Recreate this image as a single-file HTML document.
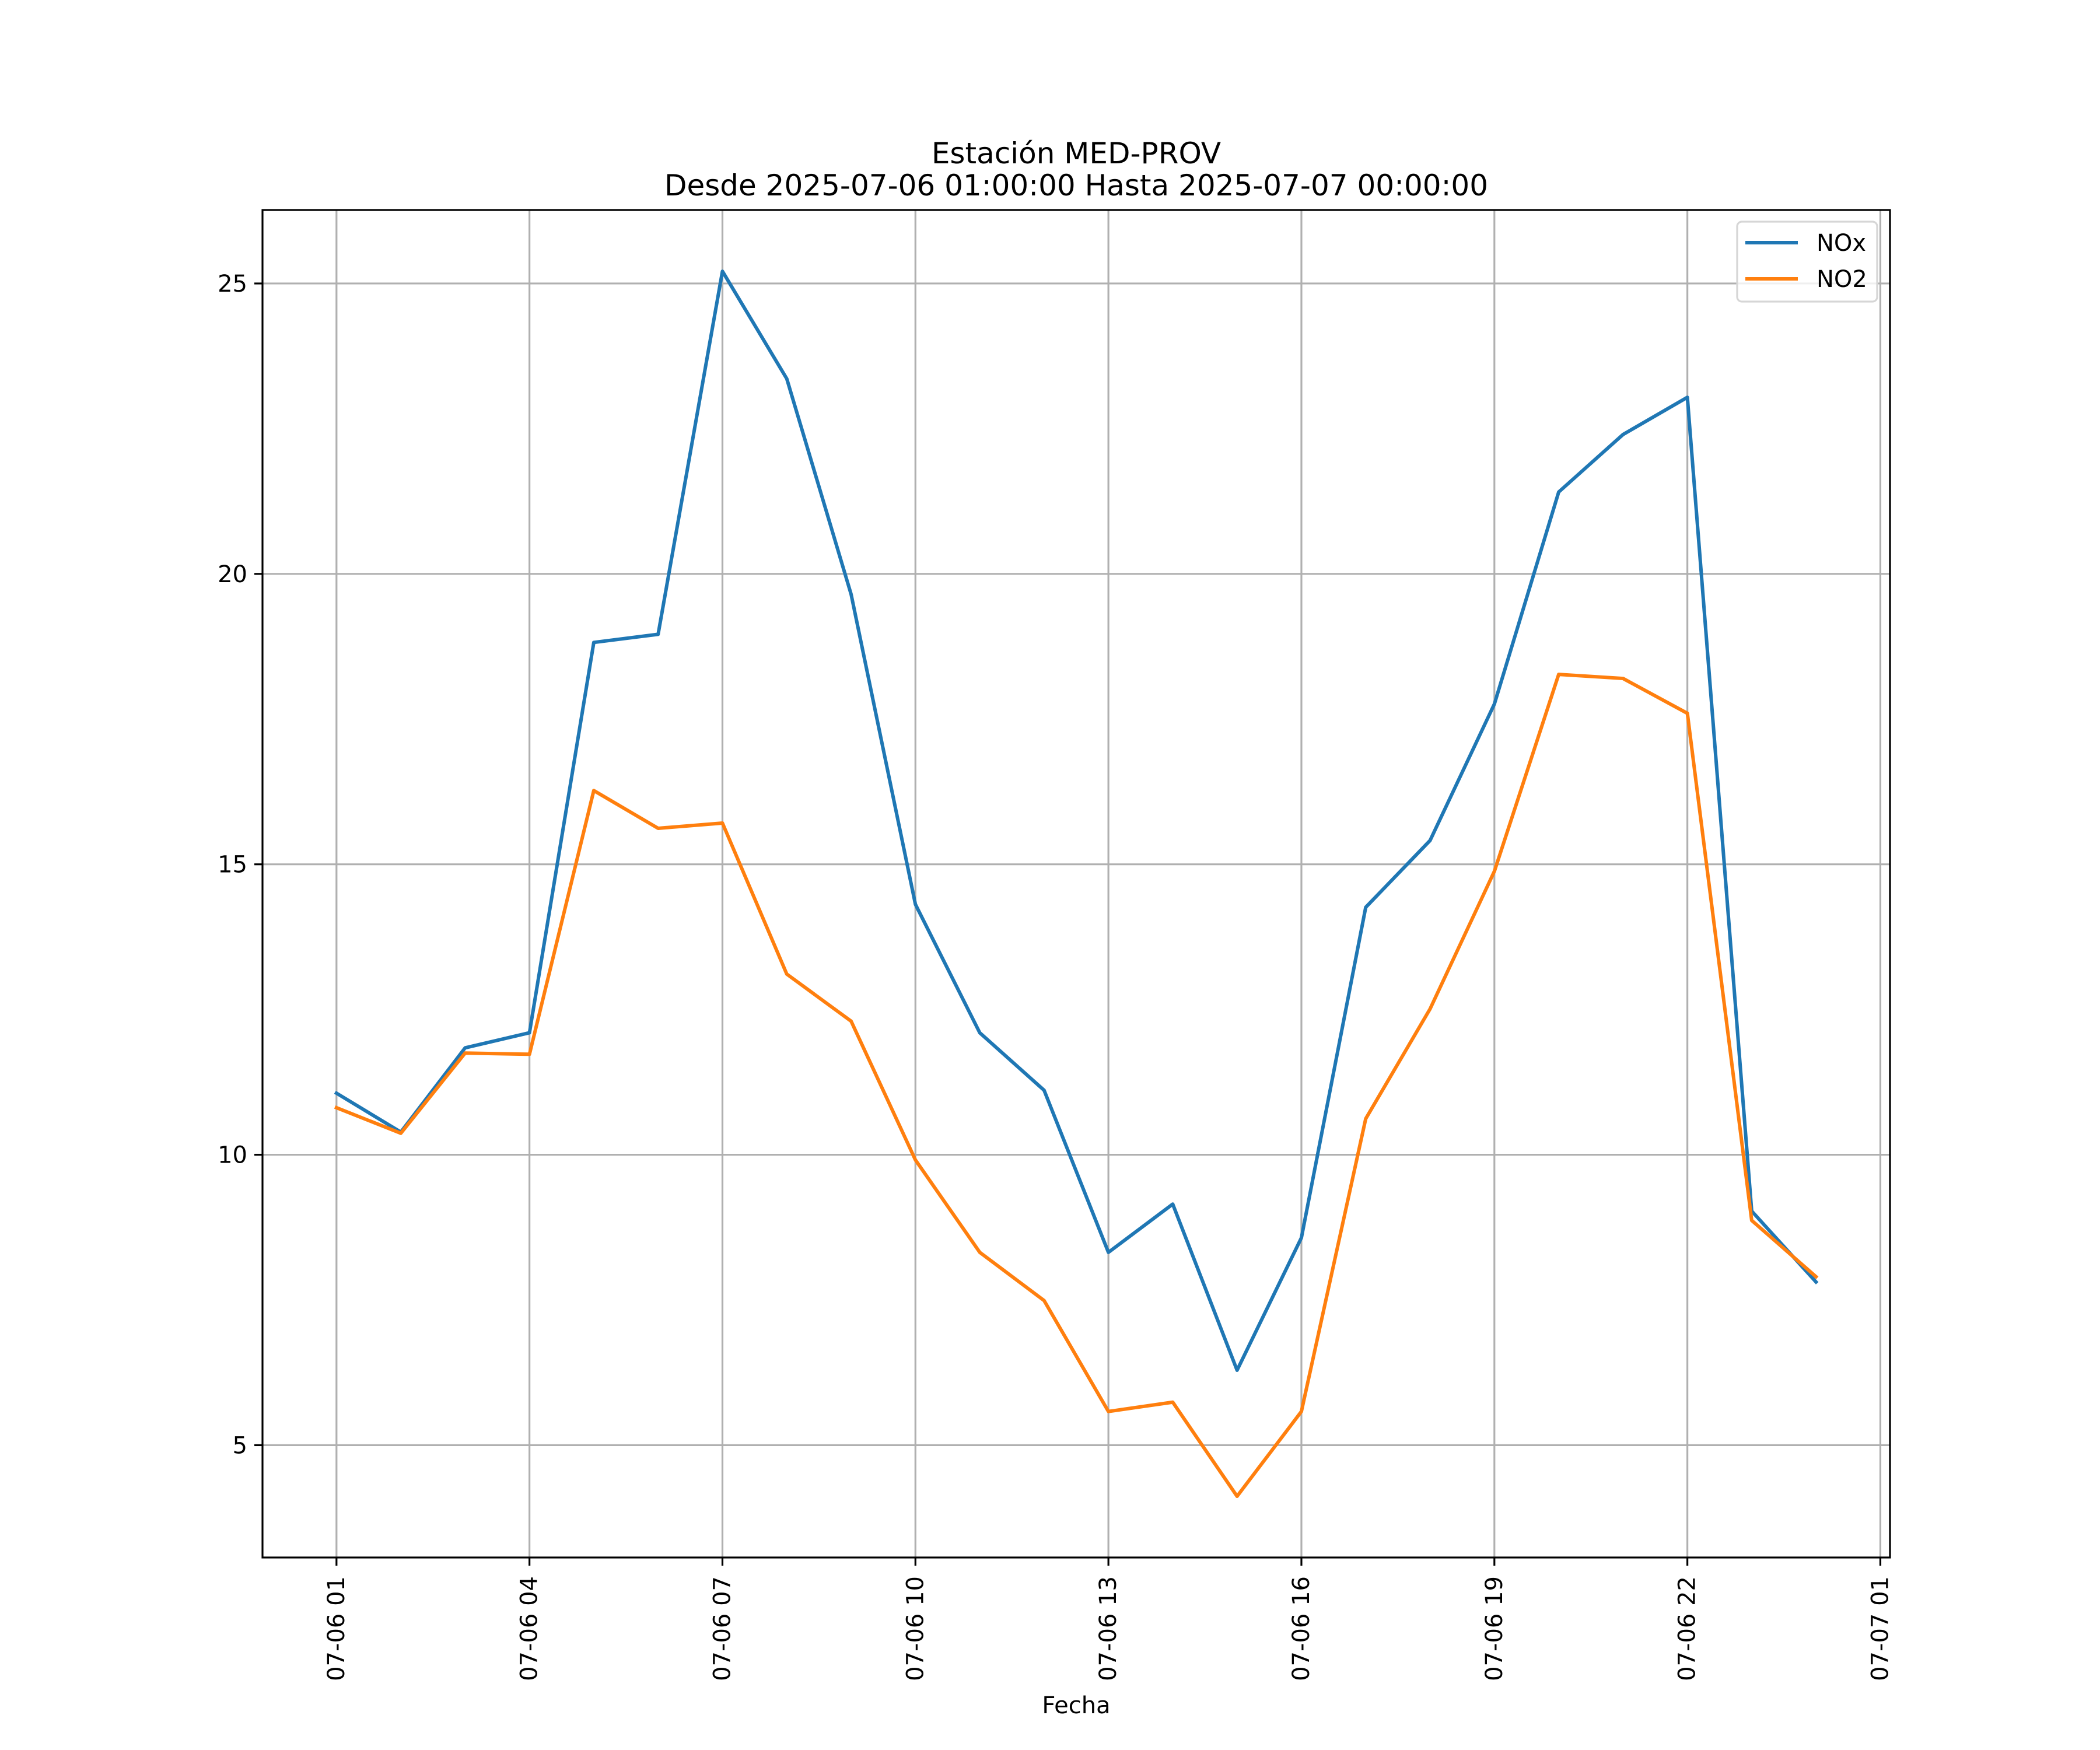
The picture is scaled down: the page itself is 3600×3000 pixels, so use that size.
<!DOCTYPE html>
<html><head><meta charset="utf-8"><style>
html,body{margin:0;padding:0;background:#fff;}
svg{display:block;font-family:"DejaVu Sans","Liberation Sans",sans-serif;}
</style></head><body>
<svg id="chart" width="3600" height="3000" viewBox="0 0 3600 3000" xmlns="http://www.w3.org/2000/svg">
<rect width="3600" height="3000" fill="#fff"/>
<g id="grid"></g>
<g id="series"></g>
<rect x="450" y="360" width="2790" height="2310" fill="none" stroke="#000" stroke-width="3.2"/>
<g id="ticks"></g>
<text x="1845" y="280" font-size="50" text-anchor="middle">Estación MED-PROV</text>
<text x="1845" y="335" font-size="50" text-anchor="middle">Desde 2025-07-06 01:00:00 Hasta 2025-07-07 00:00:00</text>
<text x="1845" y="2937" font-size="40" text-anchor="middle">Fecha</text>
<g>
<rect x="2978" y="380" width="240" height="137" rx="8" fill="#fff" fill-opacity="0.8" stroke="#d6d6d6" stroke-width="3.2"/>
<line x1="2992" y1="416" x2="3082" y2="416" stroke="#1f77b4" stroke-width="6"/>
<text x="3114" y="430" font-size="40">NOx</text>
<line x1="2992" y1="478" x2="3082" y2="478" stroke="#ff7f0e" stroke-width="6"/>
<text x="3114" y="492" font-size="40">NO2</text>
</g>
</svg>
<script>
const hours = [1,2,3,4,5,6,7,8,9,10,11,12,13,14,15,16,17,18,19,20,21,22,23,24];
const noxValues = [11.06,10.39,11.84,12.10,18.82,18.96,25.21,23.36,19.65,14.31,12.10,11.11,8.32,9.15,6.29,8.57,14.26,15.41,17.76,21.41,22.40,23.04,9.03,7.81];
const no2Values = [10.81,10.37,11.75,11.73,16.27,15.62,15.71,13.11,12.30,9.91,8.32,7.49,5.58,5.74,4.12,5.58,10.62,12.51,14.88,18.27,18.20,17.60,8.87,7.90];
const xTickHours = [1,4,7,10,13,16,19,22,25];
const xTickLabels = ["07-06 01","07-06 04","07-06 07","07-06 10","07-06 13","07-06 16","07-06 19","07-06 22","07-07 01"];
const yTicks = [5,10,15,20,25];

const L=450,R=3240,T=360,B=2670;
const xMin=-0.15,xMax=25.15,yMin=3.066,yMax=26.265;
const xs=h=>L+(h-xMin)/(xMax-xMin)*(R-L);
const ys=v=>B-(v-yMin)/(yMax-yMin)*(B-T);
const NS="http://www.w3.org/2000/svg";
const grid=document.getElementById('grid'),ticks=document.getElementById('ticks'),series=document.getElementById('series');
function mk(tag,attrs,parent){const e=document.createElementNS(NS,tag);for(const k in attrs)e.setAttribute(k,attrs[k]);parent.appendChild(e);return e;}

xTickHours.forEach((h,i)=>{
  const x=xs(h);
  const g=mk('line',{x1:x,x2:x,y1:T,y2:B,stroke:'#b0b0b0','stroke-width':3.2},grid);
  
  
  const t=mk('line',{x1:x,x2:x,y1:B,y2:B+14,stroke:'#000','stroke-width':3.2},ticks);
  
  
  const lb=mk('text',{x:0,y:0,'font-size':40,'text-anchor':'end','dominant-baseline':'central',transform:`translate(${x},${B+32}) rotate(-90)`},ticks);
  lb.textContent=xTickLabels[i];
  
  
});
yTicks.forEach(v=>{
  const y=ys(v);
  const g=mk('line',{x1:L,x2:R,y1:y,y2:y,stroke:'#b0b0b0','stroke-width':3.2},grid);
  
  
  const t=mk('line',{x1:L-14,x2:L,y1:y,y2:y,stroke:'#000','stroke-width':3.2},ticks);
  
  
  const lb=mk('text',{x:L-26,y:y+14,'font-size':40,'text-anchor':'end'},ticks);
  lb.textContent=String(v);
  
  
});
function line(vals,color,name){
  const p=mk('polyline',{points:vals.map((v,i)=>xs(hours[i])+','+ys(v)).join(' '),fill:'none',stroke:color,'stroke-width':6,'stroke-linejoin':'round','stroke-linecap':'square'},series);
  
  
}
line(noxValues,'#1f77b4','nox-line');
line(no2Values,'#ff7f0e','no2-line');
</script>
</body></html>
